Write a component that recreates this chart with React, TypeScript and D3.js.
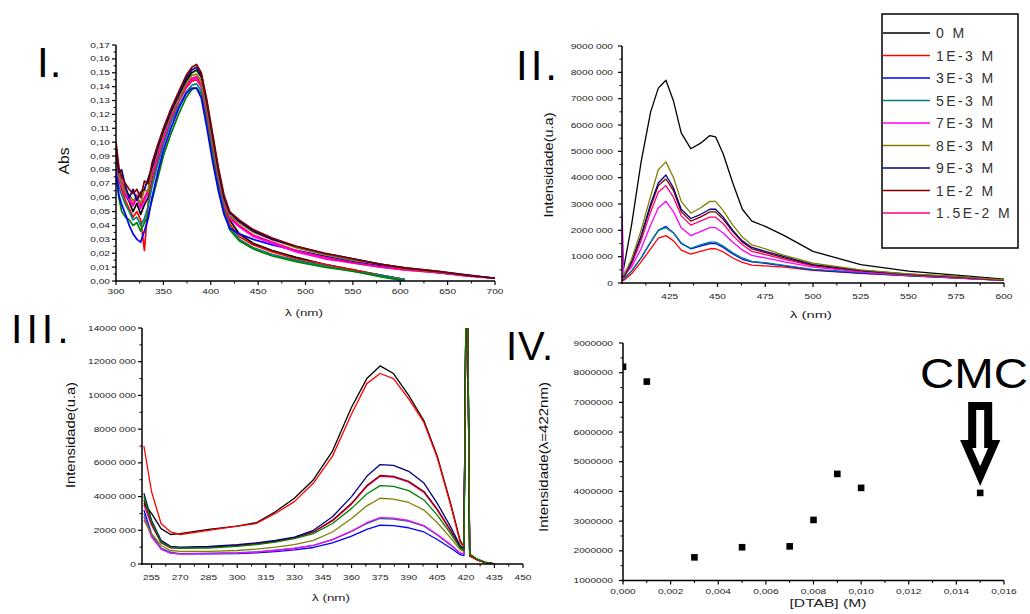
import React from "react";
import * as d3 from "d3";

const FONT = "'Liberation Sans', Arial, Helvetica, sans-serif";

// ---------- legend / series ----------
const concLabels = ["0 M", "1E-3 M", "3E-3 M", "5E-3 M", "7E-3 M", "8E-3 M", "9E-3 M", "1E-2 M", "1.5E-2 M"];
const concColors = ["#000000", "#ff0000", "#0000ff", "#008080", "#ff00ff", "#808000", "#000080", "#800000", "#ff0080"];
const extraColor = "#008000";

// ---------- Panel I : absorbance ----------
const W1 = [300,303,306,310,314,318,322,326,330,334,338,344,350,358,366,374,380,385,390,396,402,408,414,420,430,445,465,490,520,550,580,605,640,670,700];
const A_0    = [0.088,0.075,0.070,0.062,0.057,0.050,0.056,0.048,0.055,0.060,0.075,0.090,0.104,0.120,0.132,0.144,0.150,0.152,0.147,0.126,0.101,0.077,0.057,0.044,0.034,0.027,0.022,0.017,0.012,0.008,0.004,0.001];
const A_1e3  = [0.092,0.072,0.066,0.058,0.052,0.046,0.050,0.044,0.022,0.056,0.070,0.086,0.100,0.116,0.129,0.139,0.144,0.145,0.140,0.120,0.096,0.072,0.053,0.041,0.032,0.026,0.021,0.016,0.012,0.008,0.004,0.001];
const A_3e3  = [0.080,0.062,0.055,0.048,0.040,0.034,0.030,0.028,0.036,0.045,0.060,0.078,0.094,0.110,0.124,0.135,0.139,0.139,0.132,0.110,0.086,0.065,0.048,0.038,0.034,0.030,0.026,0.022,0.018,0.014,0.011,0.009,0.006,0.004,0.002];
const A_5e3  = [0.082,0.068,0.062,0.055,0.050,0.044,0.046,0.040,0.045,0.054,0.068,0.084,0.098,0.114,0.126,0.136,0.141,0.142,0.137,0.117,0.093,0.070,0.051,0.039,0.030,0.024,0.019,0.015,0.011,0.007,0.004,0.001];
const A_7e3  = [0.085,0.074,0.068,0.063,0.058,0.054,0.060,0.052,0.058,0.064,0.076,0.090,0.103,0.118,0.130,0.140,0.145,0.146,0.141,0.121,0.098,0.075,0.056,0.045,0.039,0.032,0.027,0.021,0.016,0.013,0.010,0.008,0.006,0.0035,0.002];
const A_8e3  = [0.090,0.076,0.070,0.064,0.062,0.058,0.060,0.056,0.066,0.064,0.080,0.094,0.106,0.120,0.131,0.142,0.148,0.149,0.144,0.124,0.100,0.077,0.058,0.047,0.042,0.035,0.030,0.024,0.019,0.015,0.012,0.009,0.0065,0.004,0.002];
const A_9e3  = [0.095,0.078,0.080,0.068,0.060,0.066,0.058,0.064,0.066,0.074,0.082,0.096,0.108,0.122,0.134,0.146,0.152,0.154,0.149,0.128,0.104,0.080,0.060,0.049,0.043,0.036,0.030,0.025,0.020,0.016,0.012,0.0095,0.007,0.0045,0.002];
const A_1e2  = [0.100,0.082,0.075,0.070,0.066,0.063,0.066,0.060,0.072,0.070,0.085,0.098,0.110,0.124,0.136,0.148,0.154,0.156,0.150,0.130,0.106,0.082,0.062,0.050,0.044,0.037,0.031,0.025,0.020,0.016,0.012,0.0095,0.007,0.004,0.002];
const A_15e3 = [0.098,0.080,0.072,0.066,0.060,0.055,0.062,0.054,0.060,0.066,0.078,0.092,0.105,0.119,0.131,0.141,0.146,0.147,0.142,0.122,0.099,0.076,0.057,0.046,0.040,0.033,0.028,0.022,0.017,0.013,0.010,0.008,0.006,0.004,0.002];
const A_extra = [0.078,0.060,0.050,0.046,0.044,0.040,0.042,0.036,0.042,0.048,0.058,0.074,0.090,0.106,0.120,0.132,0.138,0.139,0.135,0.116,0.092,0.068,0.050,0.037,0.029,0.023,0.018,0.014,0.010,0.007,0.003,0.000];
const absTicks = [0,0.01,0.02,0.03,0.04,0.05,0.06,0.07,0.08,0.09,0.10,0.11,0.12,0.13,0.14,0.15,0.16,0.17];
const absXTicks = [300,350,400,450,500,550,600,650,700];

// ---------- Panel II : emission (values in millions) ----------
const W2 = [400,401,405,410,415,419,423,427,431,436,441,446,449,453,458,463,468,475,485,500,525,550,575,600];
const E2_0    = [0.6,0.6,2.2,4.6,6.5,7.4,7.7,6.9,5.7,5.1,5.3,5.6,5.55,4.9,3.8,2.8,2.35,2.15,1.8,1.2,0.7,0.45,0.3,0.15];
const E2_1e3  = [0.1,0.1,0.35,0.8,1.3,1.7,1.8,1.6,1.25,1.1,1.2,1.3,1.3,1.18,0.95,0.78,0.68,0.65,0.6,0.48,0.37,0.27,0.19,0.1];
const E2_3e3  = [0.15,0.15,0.45,0.95,1.55,2.0,2.15,1.9,1.5,1.3,1.4,1.5,1.5,1.35,1.1,0.9,0.8,0.75,0.65,0.5,0.38,0.28,0.2,0.1];
const E2_5e3  = [0.15,0.15,0.45,0.95,1.55,2.0,2.1,1.9,1.52,1.32,1.45,1.55,1.55,1.4,1.15,0.95,0.82,0.77,0.67,0.52,0.4,0.28,0.2,0.1];
const E2_7e3  = [2.7,0.3,0.6,1.3,2.2,2.85,3.1,2.7,2.1,1.8,1.95,2.1,2.1,1.9,1.55,1.25,1.05,0.95,0.8,0.6,0.42,0.3,0.2,0.1];
const E2_8e3  = [0.3,0.3,0.9,2.0,3.3,4.3,4.6,4.0,3.1,2.65,2.85,3.1,3.1,2.75,2.2,1.75,1.45,1.3,1.05,0.75,0.5,0.35,0.25,0.12];
const E2_9e3  = [0.25,0.25,0.8,1.8,3.0,3.8,4.1,3.6,2.8,2.45,2.6,2.8,2.8,2.5,2.0,1.6,1.35,1.2,1.0,0.7,0.48,0.34,0.24,0.12];
const E2_1e2  = [0.25,0.25,0.8,1.75,2.9,3.7,3.95,3.5,2.7,2.35,2.5,2.7,2.7,2.42,1.95,1.55,1.3,1.15,0.95,0.68,0.47,0.33,0.23,0.11];
const E2_15e3 = [0.2,0.2,0.7,1.6,2.7,3.45,3.7,3.25,2.55,2.2,2.35,2.5,2.5,2.25,1.8,1.45,1.2,1.08,0.9,0.65,0.45,0.32,0.22,0.1];
const em2YTicks = [0,1,2,3,4,5,6,7,8,9];
const em2XTicks = [425,450,475,500,525,550,575,600];

// ---------- Panel III : emission (values in millions) ----------
const W3 = [251,255,260,265,270,285,300,310,320,330,340,350,360,368,375,382,390,398,405,412,417,419,420,421,422,426,430,435];
const E3_0    = [3.6,3.0,2.1,1.75,1.8,2.05,2.25,2.45,3.1,3.9,5.0,6.7,9.3,11.0,11.75,11.3,10.0,8.5,6.4,3.6,1.4,1.0,14.5,14.5,0.5,0.25,0.1,0.0];
const E3_1e3  = [7.0,4.3,2.4,1.9,1.75,2.0,2.25,2.4,3.0,3.7,4.8,6.4,8.9,10.7,11.3,11.0,9.8,8.4,6.3,3.5,1.3,1.0,14.5,14.5,0.5,0.25,0.1,0.0];
const E3_3e3  = [3.2,1.8,0.9,0.65,0.6,0.6,0.62,0.66,0.74,0.84,0.98,1.25,1.65,2.05,2.3,2.28,2.15,1.9,1.45,0.95,0.55,0.5,14.5,14.5,0.5,0.25,0.1,0];
const E3_5e3  = [3.0,1.7,0.95,0.7,0.62,0.64,0.67,0.72,0.82,0.94,1.1,1.45,1.93,2.4,2.7,2.67,2.53,2.24,1.72,1.12,0.64,0.6,14.5,14.5,0.5,0.25,0.1,0];
const E3_7e3  = [2.8,1.6,0.9,0.65,0.6,0.62,0.65,0.7,0.8,0.92,1.1,1.45,1.95,2.45,2.75,2.72,2.58,2.28,1.75,1.15,0.65,0.6,14.5,14.5,0.5,0.25,0.1,0];
const E3_8e3  = [2.6,1.8,1.1,0.8,0.75,0.75,0.8,0.88,1.0,1.15,1.4,1.9,2.7,3.45,3.9,3.85,3.65,3.2,2.45,1.55,0.85,0.75,14.5,14.5,0.5,0.25,0.1,0];
const E3_9e3  = [4.2,2.6,1.4,1.05,1.0,1.05,1.15,1.25,1.4,1.6,2.0,2.8,4.0,5.2,5.9,5.85,5.5,4.8,3.6,2.2,1.1,0.9,14.5,14.5,0.5,0.25,0.1,0.0];
const E3_1e2  = [3.8,2.4,1.3,1.0,0.95,1.0,1.1,1.2,1.35,1.55,1.9,2.6,3.6,4.65,5.25,5.2,4.9,4.3,3.25,2.0,1.0,0.85,14.5,14.5,0.5,0.25,0.1,0.0];
const E3_15e3 = [3.5,2.3,1.25,0.95,0.95,1.0,1.1,1.2,1.35,1.55,1.9,2.55,3.55,4.6,5.2,5.15,4.85,4.25,3.2,1.95,1.0,0.85,14.5,14.5,0.5,0.25,0.1,0];
const E3_extra = [4.0,2.5,1.3,1.0,0.95,0.95,1.05,1.15,1.3,1.5,1.8,2.4,3.3,4.15,4.65,4.6,4.35,3.8,2.9,1.8,0.95,0.8,14.5,14.5,0.6,0.3,0.12,0];
const em3YTicks = [0,2,4,6,8,10,12,14];
const em3XTicks = [255,270,285,300,315,330,345,360,375,390,405,420,435,450];

// ---------- Panel IV : intensity at 422 nm vs [DTAB] ----------
const dtab = [0.000,0.001,0.003,0.005,0.007,0.008,0.009,0.010,0.015];
const int422_M = [8.2,7.7,1.78,2.12,2.15,3.04,4.59,4.12,3.95];
const ivYTicks = [1,2,3,4,5,6,7,8,9];
const ivXTicks = [0,0.002,0.004,0.006,0.008,0.010,0.012,0.014,0.016];

// ---------- scales ----------
const xI = d3.scaleLinear().domain([300, 700]).range([116, 495]);
const yI = d3.scaleLinear().domain([0, 0.17]).range([281, 45]);
const xII = d3.scaleLinear().domain([400, 600]).range([622, 1004]);
const yII = d3.scaleLinear().domain([0, 9]).range([283, 46]);
const xIII = d3.scaleLinear().domain([250, 450]).range([142, 523]);
const yIII = d3.scaleLinear().domain([0, 14]).range([564, 328]);
const xIV = d3.scaleLinear().domain([0, 0.016]).range([623, 1004]);
const yIV = d3.scaleLinear().domain([1, 9]).range([580.5, 343]);

const mid = (arr: number[]) => arr.slice(0, -1).map((v, i) => (v + arr[i + 1]) / 2);
const fmtComma = (d: number) => (v: number) => v.toFixed(d).replace(".", ",");
const fmtMillSpace = (v: number) => {
  if (v === 0) return "0";
  const s = String(Math.round(v * 1e6));
  return s.slice(0, -3) + " " + s.slice(-3);
};
const fmtMill = (v: number) => String(Math.round(v * 1e6));

type Sc = d3.ScaleLinear<number, number>;

function LeftAxis({ scale, x, major, minor, fmt, lx }: { scale: Sc; x: number; major: number[]; minor: number[]; fmt: (v: number) => string; lx: number }) {
  const [r0, r1] = scale.range();
  return (
    <g>
      <line x1={x} x2={x} y1={r0 + 0.75} y2={r1} stroke="#000" strokeWidth={1.5} />
      {major.map((v) => (
        <line key={"M" + v} x1={x - 4} x2={x} y1={scale(v)} y2={scale(v)} stroke="#000" strokeWidth={1.2} />
      ))}
      {minor.map((v) => (
        <line key={"m" + v} x1={x - 2.5} x2={x} y1={scale(v)} y2={scale(v)} stroke="#000" strokeWidth={1} />
      ))}
      {major.map((v) => (
        <text key={"t" + v} transform={`translate(${lx},${scale(v) + 2.5}) scale(1.45,1)`} textAnchor="end" fontSize={7} fill="#222" fontFamily={FONT}>
          {fmt(v)}
        </text>
      ))}
    </g>
  );
}

function BottomAxis({ scale, y, major, minor, fmt, ly }: { scale: Sc; y: number; major: number[]; minor: number[]; fmt: (v: number) => string; ly: number }) {
  const [r0, r1] = scale.range();
  return (
    <g>
      <line x1={r0 - 0.75} x2={r1} y1={y} y2={y} stroke="#000" strokeWidth={1.5} />
      {major.map((v) => (
        <line key={"M" + v} x1={scale(v)} x2={scale(v)} y1={y} y2={y + 4} stroke="#000" strokeWidth={1.2} />
      ))}
      {minor.map((v) => (
        <line key={"m" + v} x1={scale(v)} x2={scale(v)} y1={y} y2={y + 2.5} stroke="#000" strokeWidth={1} />
      ))}
      {major.map((v) => (
        <text key={"t" + v} transform={`translate(${scale(v)},${ly}) scale(1.45,1)`} textAnchor="middle" fontSize={7} fill="#222" fontFamily={FONT}>
          {fmt(v)}
        </text>
      ))}
    </g>
  );
}

function series(xs: number[], vals: (number | null)[], xs_: Sc, ys_: Sc) {
  const line = d3
    .line<number>()
    .defined((i) => vals[i] != null)
    .x((i) => xs_(xs[i]))
    .y((i) => ys_(vals[i] as number));
  return line(d3.range(vals.length)) || "";
}

function YTitle({ x, y, text, len, size }: { x: number; y: number; text: string; len: number; size: number }) {
  return (
    <text transform={`translate(${x},${y}) rotate(-90)`} textAnchor="middle" dominantBaseline="central" fontSize={size} fontFamily={FONT} fill="#111" textLength={len} lengthAdjust="spacingAndGlyphs">
      {text}
    </text>
  );
}

function XTitle({ x, y, text, len, size }: { x: number; y: number; text: string; len: number; size: number }) {
  return (
    <text x={x - len / 2} y={y} fontSize={size} fontFamily={FONT} fill="#222" textLength={len} lengthAdjust="spacingAndGlyphs">
      {text}
    </text>
  );
}

export default function App() {
  const p1Series: [number[], string][] = [
    [A_0, concColors[0]],
    [A_1e3, concColors[1]],
    [A_5e3, concColors[3]],
    [A_extra, extraColor],
    [A_3e3, concColors[2]],
    [A_7e3, concColors[4]],
    [A_15e3, concColors[8]],
    [A_8e3, concColors[5]],
    [A_9e3, concColors[6]],
    [A_1e2, concColors[7]],
  ];
  const p2Series: [number[], string][] = [
    [E2_0, concColors[0]],
    [E2_1e3, concColors[1]],
    [E2_3e3, concColors[2]],
    [E2_5e3, concColors[3]],
    [E2_7e3, concColors[4]],
    [E2_15e3, concColors[8]],
    [E2_1e2, concColors[7]],
    [E2_9e3, concColors[6]],
    [E2_8e3, concColors[5]],
  ];
  const p3Series: [number[], string][] = [
    [E3_3e3, concColors[2]],
    [E3_5e3, concColors[3]],
    [E3_7e3, concColors[4]],
    [E3_8e3, concColors[5]],
    [E3_15e3, concColors[8]],
    [E3_1e2, concColors[7]],
    [E3_9e3, concColors[6]],
    [E3_0, concColors[0]],
    [E3_1e3, concColors[1]],
    [E3_extra, extraColor],
  ];

  const cx = xIV(0.015);
  const arrowPath = `M${cx - 8},406 L${cx + 8},406 L${cx + 8},444 L${cx + 14},444 L${cx},476 L${cx - 14},444 L${cx - 8},444 Z`;

  const legendX = 882, legendY = 14, legendW = 136, legendH = 234;

  return (
    <svg width={1030} height={614} style={{ position: "absolute", left: 0, top: 0, background: "#fff" }} fontFamily={FONT}>
      <defs>
        <clipPath id="c1"><rect x={116} y={40} width={380} height={241} /></clipPath>
        <clipPath id="c2"><rect x={622} y={40} width={384} height={243} /></clipPath>
        <clipPath id="c3"><rect x={142} y={328} width={383} height={236} /></clipPath>
        <clipPath id="c4"><rect x={623} y={338} width={384} height={242} /></clipPath>
      </defs>
      <rect x={0} y={0} width={1030} height={614} fill="#fff" />

      {/* Panel labels */}
      <text x={37} y={77} fontSize={42} fill="#000" letterSpacing={1}>I.</text>
      <text x={516} y={80} fontSize={42} fill="#000" letterSpacing={3}>II.</text>
      <text x={11} y={343} fontSize={41} fill="#000" letterSpacing={4}>III.</text>
      <text x={506} y={360} fontSize={40} fill="#000" letterSpacing={1}>IV.</text>

      {/* ---------- Panel I ---------- */}
      <g clipPath="url(#c1)">
        {p1Series.map(([vals, col], i) => (
          <path key={i} d={series(W1, vals, xI, yI)} fill="none" stroke={col} strokeWidth={1.7} strokeLinejoin="round" />
        ))}
      </g>
      <LeftAxis scale={yI} x={116} major={absTicks} minor={mid(absTicks)} fmt={fmtComma(2)} lx={110} />
      <BottomAxis scale={xI} y={281} major={absXTicks} minor={mid(absXTicks)} fmt={(v) => String(v)} ly={294} />
      <YTitle x={63} y={161} text="Abs" len={27} size={15} />
      <XTitle x={304} y={316} text="λ (nm)" len={38} size={9} />

      {/* ---------- Panel II ---------- */}
      <g clipPath="url(#c2)">
        {p2Series.map(([vals, col], i) => (
          <path key={i} d={series(W2, vals, xII, yII)} fill="none" stroke={col} strokeWidth={1.3} strokeLinejoin="round" />
        ))}
      </g>
      <LeftAxis scale={yII} x={622} major={em2YTicks} minor={mid(em2YTicks)} fmt={fmtMillSpace} lx={613} />
      <BottomAxis scale={xII} y={283} major={em2XTicks} minor={[412.5, ...mid(em2XTicks)]} fmt={(v) => String(v)} ly={299} />
      <YTitle x={548} y={165} text="Intensidade(u.a)" len={105} size={13} />
      <XTitle x={811} y={318} text="λ (nm)" len={42} size={9} />

      {/* Legend */}
      <rect x={legendX} y={legendY} width={legendW} height={legendH} fill="#fff" stroke="#000" strokeWidth={1.5} />
      {concLabels.map((lab, i) => {
        const ly = 33 + i * 22.5;
        return (
          <g key={lab}>
            <line x1={883} x2={930} y1={ly} y2={ly} stroke={concColors[i]} strokeWidth={1.5} />
            <text x={936} y={ly + 5} fontSize={14} fill="#333" letterSpacing={2.4}>{lab}</text>
          </g>
        );
      })}

      {/* ---------- Panel III ---------- */}
      <g clipPath="url(#c3)">
        {p3Series.map(([vals, col], i) => (
          <path key={i} d={series(W3, vals, xIII, yIII)} fill="none" stroke={col} strokeWidth={1.3} strokeLinejoin="round" />
        ))}
      </g>
      <LeftAxis scale={yIII} x={142} major={em3YTicks} minor={mid(em3YTicks)} fmt={fmtMillSpace} lx={136} />
      <BottomAxis scale={xIII} y={564} major={em3XTicks} minor={mid(em3XTicks)} fmt={(v) => String(v)} ly={580} />
      <YTitle x={70} y={435} text="Intensidade(u.a)" len={106} size={13} />
      <XTitle x={331} y={601} text="λ (nm)" len={38} size={9} />

      {/* ---------- Panel IV ---------- */}
      <g clipPath="url(#c4)">
        {dtab.map((d, i) => (
          <rect key={i} x={xIV(d) - 3.3} y={yIV(int422_M[i]) - 3.3} width={6.6} height={6.6} fill="#000" />
        ))}
      </g>
      <LeftAxis scale={yIV} x={623} major={ivYTicks} minor={mid(ivYTicks)} fmt={fmtMill} lx={613} />
      <BottomAxis scale={xIV} y={580.5} major={ivXTicks} minor={mid(ivXTicks)} fmt={fmtComma(3)} ly={594} />
      <YTitle x={543} y={457} text="Intensidade(λ=422nm)" len={150} size={13} />
      <XTitle x={828} y={607} text="[DTAB] (M)" len={77} size={10} />

      {/* CMC annotation */}
      <text x={920} y={388} fontSize={42} fill="#000" textLength={108} lengthAdjust="spacingAndGlyphs">CMC</text>
      <path d={arrowPath} fill="#fff" stroke="#000" strokeWidth={8} strokeLinejoin="miter" />
    </svg>
  );
}
